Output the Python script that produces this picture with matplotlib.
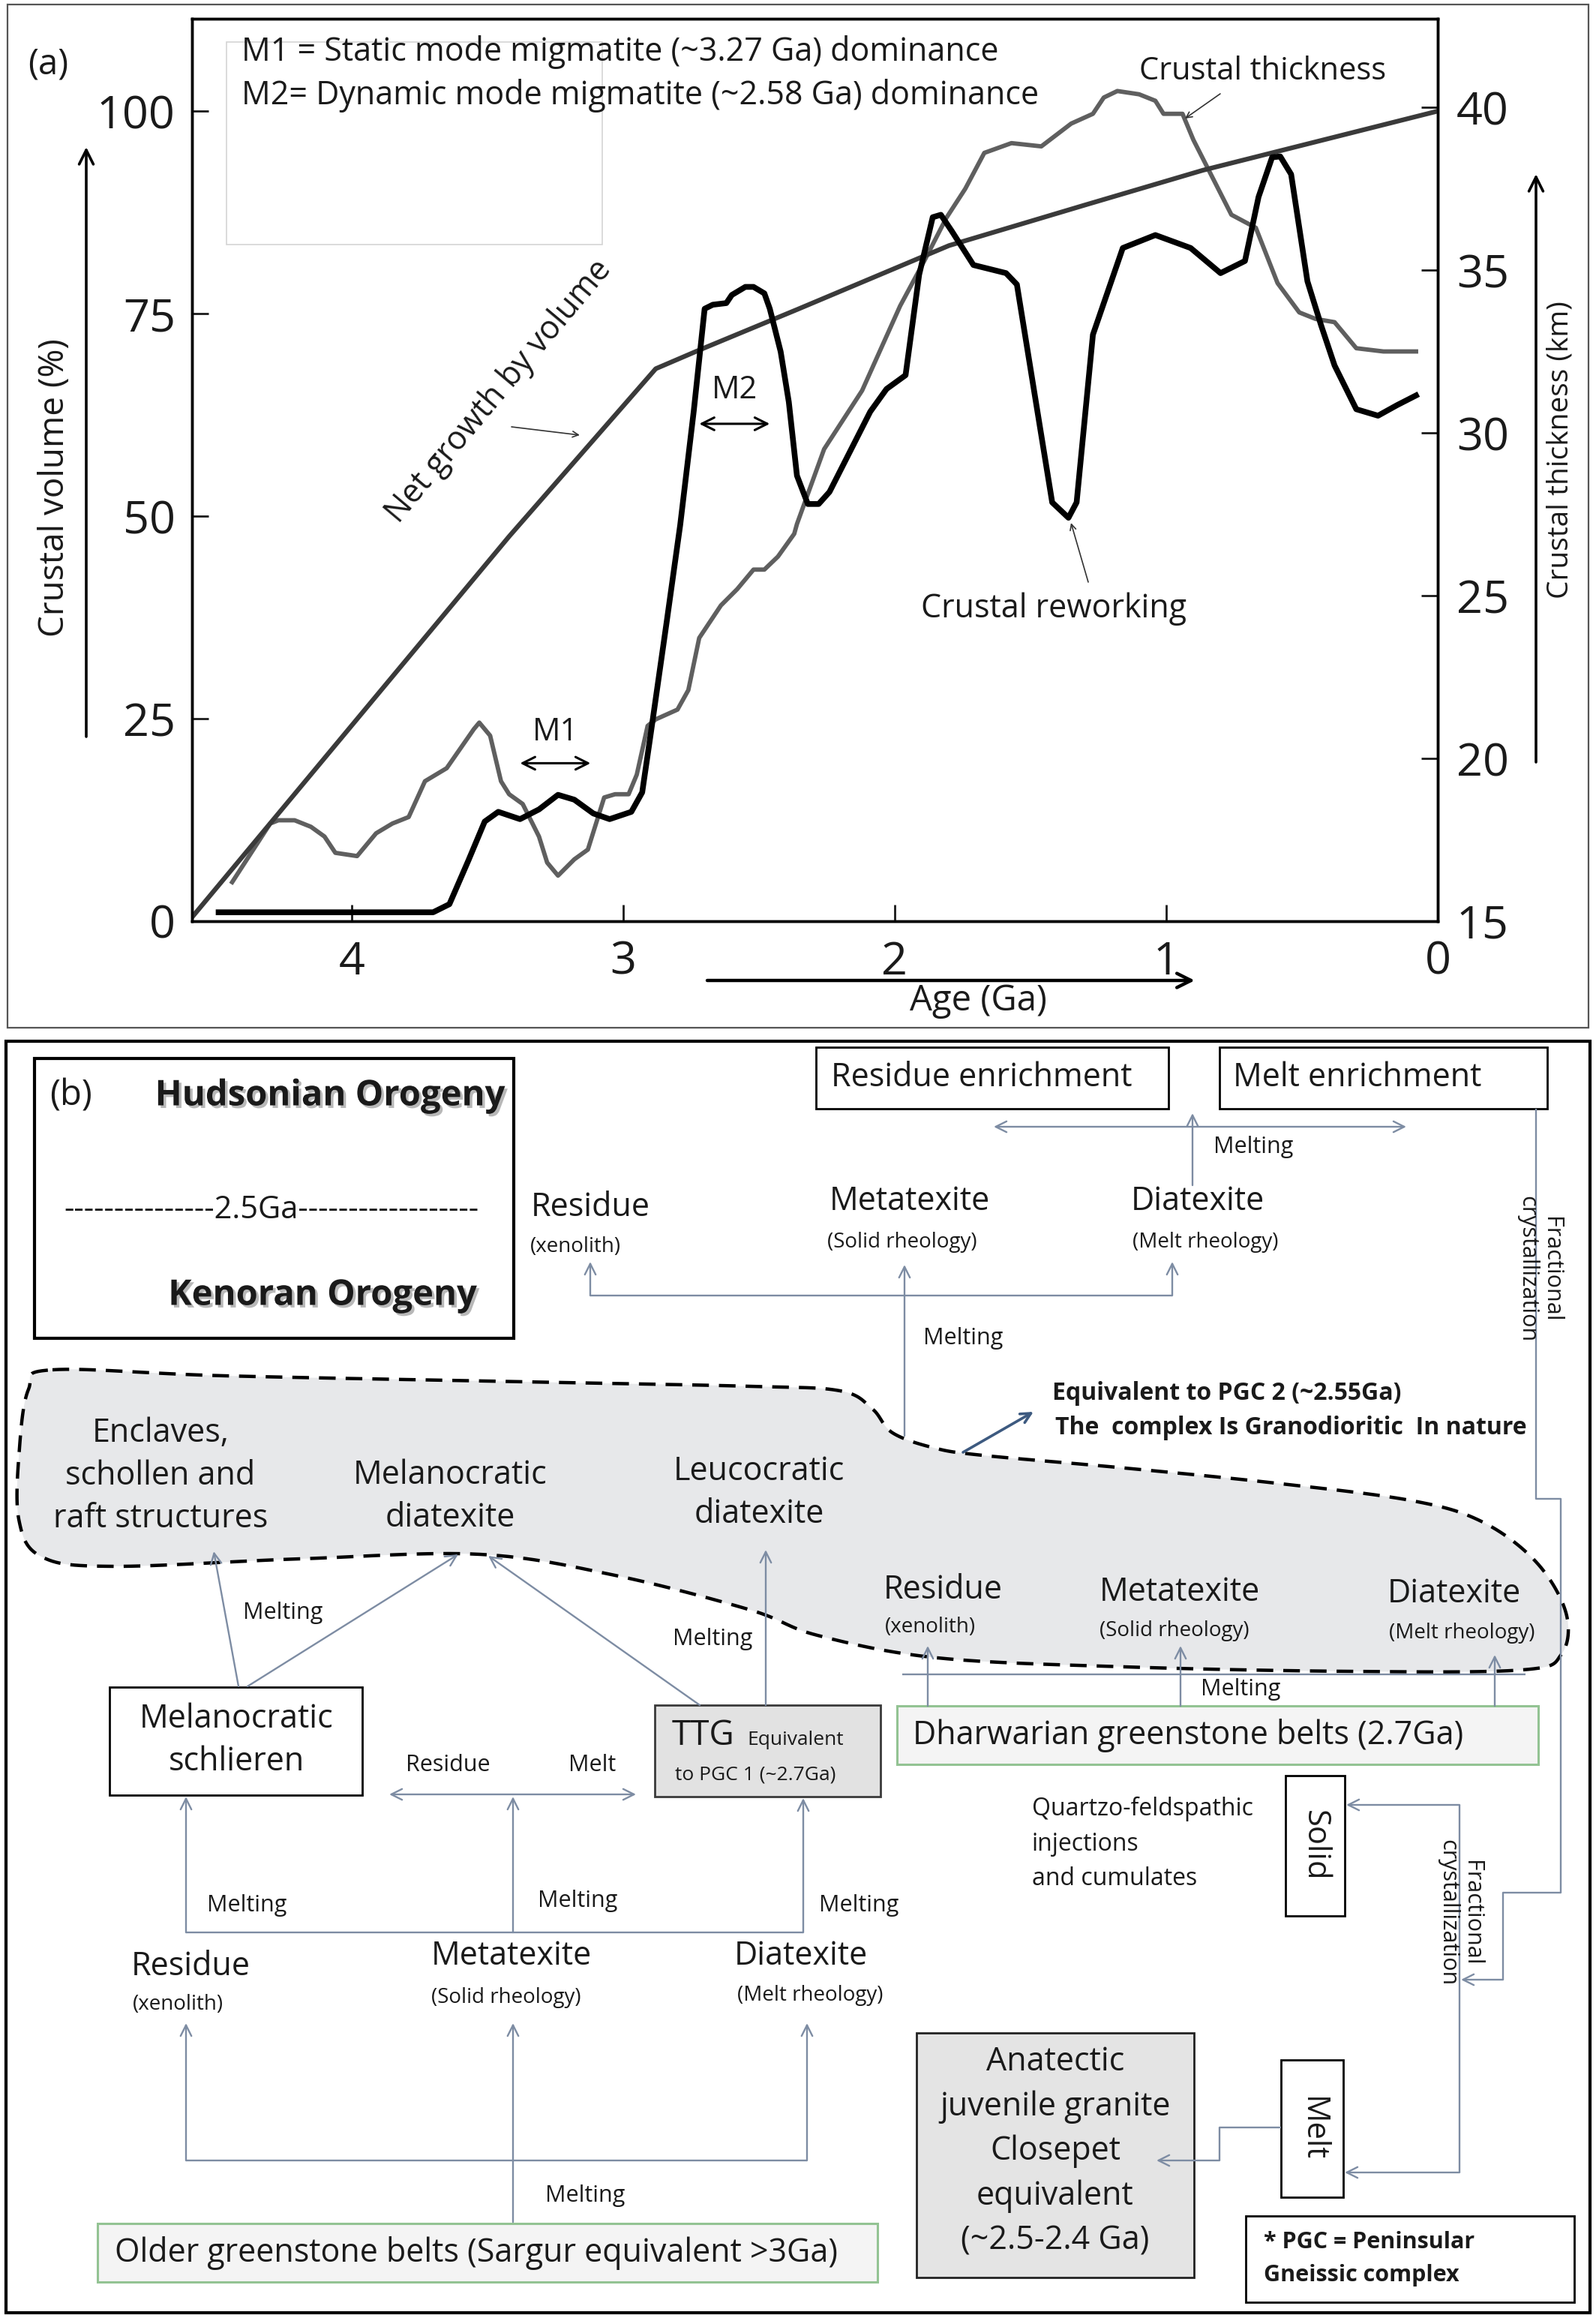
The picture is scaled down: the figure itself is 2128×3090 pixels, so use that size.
import numpy as np
import matplotlib
matplotlib.use('Agg')
import matplotlib.pyplot as plt
import matplotlib.patheffects as pe
from matplotlib.patches import Rectangle, Polygon

plt.rcParams['font.family'] = ['Open Sans', 'DejaVu Sans']

W, H = 2128, 3090

# ---- panel (a) data ----
growth_age = [4.60, 3.42, 2.88, 2.72, 2.36, 1.80, 1.30, 0.865, 0.00]
growth_vol = [0, 47.5, 68.2, 70.5, 75.5, 83.4, 88.4, 92.7, 100]

thick_age = [4.44, 4.30, 4.27, 4.21, 4.15, 4.10, 4.06, 3.98, 3.91, 3.85,
             3.79, 3.73, 3.69, 3.65, 3.60, 3.55, 3.53, 3.49, 3.45, 3.42,
             3.37, 3.31, 3.28, 3.24, 3.18, 3.13, 3.10, 3.07, 3.03, 2.98,
             2.95, 2.91, 2.88, 2.80, 2.76, 2.74, 2.72, 2.64, 2.58, 2.52,
             2.48, 2.43, 2.37, 2.36, 2.26, 2.12, 1.98, 1.89, 1.81, 1.74,
             1.67, 1.57, 1.46, 1.35, 1.27, 1.23, 1.18, 1.10, 1.04, 1.01,
             0.94, 0.90, 0.76, 0.67, 0.59, 0.51, 0.45, 0.38, 0.30, 0.20, 0.08]
thick_km = [16.2, 18.0, 18.1, 18.1, 17.9, 17.6, 17.1, 17.0, 17.7, 18.0,
            18.2, 19.3, 19.5, 19.7, 20.3, 20.9, 21.1, 20.7, 19.3, 18.9,
            18.6, 17.6, 16.8, 16.4, 16.9, 17.2, 18.0, 18.8, 18.9, 18.9,
            19.5, 21.0, 21.2, 21.5, 22.1, 22.9, 23.7, 24.7, 25.2, 25.8,
            25.8, 26.2, 26.9, 27.2, 29.5, 31.3, 33.9, 35.3, 36.6, 37.5,
            38.6, 38.9, 38.8, 39.5, 39.8, 40.3, 40.5, 40.4, 40.2, 39.8,
            39.8, 39.0, 36.7, 36.3, 34.6, 33.7, 33.5, 33.4, 32.6, 32.5, 32.5]

rework_age = [4.49, 3.70, 3.64, 3.57, 3.51, 3.46, 3.38, 3.31, 3.24, 3.18,
              3.11, 3.05, 2.97, 2.93, 2.90, 2.84, 2.79, 2.74, 2.70, 2.67,
              2.62, 2.60, 2.55, 2.52, 2.48, 2.46, 2.42, 2.39, 2.36, 2.32,
              2.28, 2.24, 2.09, 2.03, 1.96, 1.91, 1.86, 1.83, 1.79, 1.71,
              1.59, 1.55, 1.48, 1.42, 1.36, 1.33, 1.27, 1.16, 1.04, 0.91,
              0.80, 0.71, 0.66, 0.61, 0.58, 0.54, 0.48, 0.43, 0.38, 0.30,
              0.22, 0.15, 0.08]
rework_vol = [1.1, 1.1, 2.1, 7.5, 12.3, 13.5, 12.6, 13.8, 15.6, 15.0,
              13.3, 12.6, 13.5, 15.9, 22.8, 36.9, 48.9, 63.0, 75.6, 76.1,
              76.3, 77.3, 78.3, 78.3, 77.5, 75.6, 70.3, 64.1, 55.0, 51.5,
              51.5, 53.0, 62.9, 65.7, 67.4, 79.8, 86.9, 87.2, 85.2, 81.0,
              80.0, 78.6, 64.1, 51.7, 49.8, 51.7, 72.4, 83.1, 84.7, 83.1,
              80.0, 81.5, 89.4, 94.3, 94.4, 92.2, 79.0, 73.6, 68.6, 63.2,
              62.4, 63.7, 64.9]

vol_ticks = [0, 25, 50, 75, 100]
km_ticks = [15, 20, 25, 30, 35, 40]
age_ticks = [4, 3, 2, 1, 0]
m1_span = [3.38, 3.12]
m2_span = [2.72, 2.46]

inset_lines = ['M1 = Static mode migmatite (~3.27 Ga) dominance',
               'M2= Dynamic mode migmatite (~2.58 Ga) dominance']

TXT = '#1a1a1a'
CONN = '#7d8ca3'

fig = plt.figure(figsize=(W / 100, H / 100), dpi=100)

# axes box in pixels: x 256..1917, y 25..1228
ax = fig.add_axes([256 / W, 1 - 1228 / H, (1917 - 256) / W, (1228 - 25) / H])
ax2 = ax.twinx()

ax2.plot(thick_age, thick_km, color='#5f5f5f', lw=4.2, solid_joinstyle='round')
ax.plot(growth_age, growth_vol, color='#3a3a3a', lw=4.5)
ax.plot(rework_age, rework_vol, color='black', lw=5.5, solid_joinstyle='round')
ax.set_zorder(ax2.get_zorder() + 1)
ax.patch.set_visible(False)

ax.set_xlim(4.588, 0)
ax.set_ylim(0, 111.4)
ax2.set_ylim(15, 42.72)
ax.set_xticks(age_ticks)
ax.set_xticklabels([str(a) for a in age_ticks])
ax.set_yticks(vol_ticks)
ax2.set_yticks(km_ticks)
ax.tick_params(axis='x', direction='in', length=16, width=2, labelsize=44, pad=18, colors=TXT)
ax.tick_params(axis='y', direction='in', length=16, width=2, labelsize=44, pad=16, colors=TXT)
ax2.tick_params(axis='y', direction='in', length=16, width=2, labelsize=44, pad=18, colors=TXT)
for s in ax.spines.values():
    s.set_linewidth(2.5)
for s in ax2.spines.values():
    s.set_linewidth(2.5)

# M1 / M2 double arrows
ax.annotate('', xy=(m1_span[1], 19.5), xytext=(m1_span[0], 19.5),
            arrowprops=dict(arrowstyle='<->', color='black', lw=2.2, mutation_scale=30,
                            shrinkA=0, shrinkB=0))
ax.text(np.mean(m1_span), 23.3, 'M1', fontsize=30, ha='center', va='center', color=TXT)
ax.annotate('', xy=(m2_span[1], 61.4), xytext=(m2_span[0], 61.4),
            arrowprops=dict(arrowstyle='<->', color='black', lw=2.2, mutation_scale=30,
                            shrinkA=0, shrinkB=0))
ax.text(np.mean(m2_span), 65.6, 'M2', fontsize=30, ha='center', va='center', color=TXT)

# overlay in pixel coordinates (y downwards)
ov = fig.add_axes([0, 0, 1, 1])
ov.set_xlim(0, W)
ov.set_ylim(H, 0)
ov.axis('off')
ov.patch.set_alpha(0)


def box(x0, y0, x1, y1, fc='white', ec='black', lw=2.0, z=2):
    ov.add_patch(Rectangle((x0, y0), x1 - x0, y1 - y0, facecolor=fc, edgecolor=ec, lw=lw, zorder=z))


def txt(x, y, s, size, **kw):
    kw.setdefault('ha', 'center')
    kw.setdefault('va', 'center')
    kw.setdefault('color', TXT)
    ov.text(x, y, s, fontsize=size, zorder=6, **kw)


def arrow(p0, p1, color=CONN, lw=1.7, style='->', ms=26):
    ov.annotate('', xy=p1, xytext=p0, zorder=5,
                arrowprops=dict(arrowstyle=style, color=color, lw=lw, mutation_scale=ms,
                                shrinkA=0, shrinkB=0))


def line(pts, color=CONN, lw=1.7):
    pts = np.array(pts)
    ov.plot(pts[:, 0], pts[:, 1], color=color, lw=lw, zorder=5, solid_capstyle='butt')


# ---- panel (a) decorations ----
box(10, 6, 2118, 1370, fc='none', ec='#555555', lw=1.6, z=1)
txt(64, 86, '(a)', 34)
box(302, 56, 803, 326, fc='none', ec='#d4d4d4', lw=1.2, z=1)
txt(322, 69, inset_lines[0], 31, ha='left')
txt(322, 127, inset_lines[1], 31, ha='left')

txt(73, 650, 'Crustal volume (%)', 33, rotation=90)
arrow((115, 982), (115, 196), color='black', lw=2.6, ms=34)
txt(2080, 600, 'Crustal thickness (km)', 28, rotation=90)
arrow((2048, 1016), (2048, 232), color='black', lw=2.6, ms=34)
txt(1304, 1334, 'Age (Ga)', 34)
arrow((943, 1307), (1593, 1307), color='black', lw=3.2, ms=34)

txt(1684, 95, 'Crustal thickness', 30)
arrow((1627, 125), (1580, 158), color='#333333', lw=1.2, ms=14)
txt(1405, 812, 'Crustal reworking', 31)
arrow((1451, 776), (1428, 697), color='#333333', lw=1.2, ms=14)
txt(665, 522, 'Net growth by volume', 31, rotation=50)
arrow((682, 569), (773, 580), color='#333333', lw=1.2, ms=14)

# ---- panel (b) ----
box(8, 1388, 2120, 3083, fc='none', ec='black', lw=3.0, z=1)


def smooth_closed(pts, n=16):
    P = np.array(pts, dtype=float)
    N = len(P)
    t = np.linspace(0, 1, n, endpoint=False)[:, None]
    out = []
    for i in range(N):
        p0, p1, p2, p3 = P[i - 1], P[i], P[(i + 1) % N], P[(i + 2) % N]
        out.append(0.5 * (2 * p1 + (-p0 + p2) * t + (2 * p0 - 5 * p1 + 4 * p2 - p3) * t ** 2
                          + (-p0 + 3 * p1 - 3 * p2 + p3) * t ** 3))
    return np.vstack(out)


blob_pts = [(70, 1826), (300, 1834), (700, 1842), (1000, 1848), (1120, 1854), (1163, 1878),
            (1190, 1910), (1245, 1930), (1310, 1940), (1500, 1957), (1700, 1977), (1880, 2000),
            (1975, 2028), (2048, 2082), (2088, 2150), (2082, 2205), (2030, 2226), (1800, 2228),
            (1500, 2222), (1250, 2210), (1090, 2180), (1000, 2146), (820, 2100), (640, 2072),
            (400, 2078), (150, 2088), (55, 2075), (25, 2025), (26, 1930), (38, 1852)]
blob = smooth_closed(blob_pts)
ov.add_patch(Polygon(blob, closed=True, facecolor='#e7e8ea', edgecolor='black', lw=3.2,
                     linestyle=(0, (5, 3)), zorder=1))

# legend box
box(46, 1411, 685, 1784, lw=3.0)
shadow = [pe.SimplePatchShadow(offset=(2.5, -2.5), shadow_rgbFace='0.45', alpha=0.5), pe.Normal()]
txt(95, 1461, '(b)', 34)
txt(440, 1461, 'Hudsonian Orogeny', 34, weight='bold', path_effects=shadow)
txt(362, 1613, '---------------2.5Ga------------------', 30)
txt(430, 1727, 'Kenoran Orogeny', 34, weight='bold', path_effects=shadow)

# top boxes
box(1088, 1396, 1558, 1478)
box(1626, 1396, 2063, 1478)
txt(1108, 1437, 'Residue enrichment', 31, ha='left')
txt(1644, 1437, 'Melt enrichment', 31, ha='left')
arrow((1325, 1502), (1875, 1502), style='<->')
arrow((1590, 1580), (1590, 1484))
txt(1671, 1529, 'Melting', 22)

# upper migmatite row
txt(787, 1610, 'Residue', 31)
txt(767, 1662, '(xenolith)', 20)
txt(1213, 1602, 'Metatexite', 31)
txt(1203, 1656, '(Solid rheology)', 20)
txt(1597, 1602, 'Diatexite', 31)
txt(1607, 1656, '(Melt rheology)', 20)
line([(787, 1727), (1563, 1727)])
arrow((787, 1727), (787, 1682))
arrow((1563, 1727), (1563, 1682))
arrow((1206, 1914), (1206, 1686))
txt(1284, 1784, 'Melting', 22)

# fractional crystallization path (top)
line([(2048, 1478), (2048, 1998), (2081, 1998), (2081, 2523), (2004, 2523), (2004, 2639)])
arrow((2004, 2639), (1948, 2639))
txt(2052, 1692, 'Fractional\ncrystallization', 22, rotation=-90, linespacing=1.1)

# PGC2 note
txt(1403, 1857, 'Equivalent to PGC 2 (~2.55Ga)', 23, ha='left', weight='bold')
txt(1407, 1903, 'The  complex Is Granodioritic  In nature', 23, ha='left', weight='bold')
arrow((1284, 1936), (1378, 1882), color='#3d5a80', lw=2.6, ms=24)

# blob contents
txt(214, 1968, 'Enclaves,\nschollen and\nraft structures', 31, linespacing=1.38)
txt(600, 1995, 'Melanocratic\ndiatexite', 31, linespacing=1.38)
txt(1012, 1990, 'Leucocratic\ndiatexite', 31, linespacing=1.38)
txt(1257, 2120, 'Residue', 31)
txt(1240, 2169, '(xenolith)', 20)
txt(1573, 2123, 'Metatexite', 31)
txt(1566, 2174, '(Solid rheology)', 20)
txt(1939, 2125, 'Diatexite', 31)
txt(1949, 2177, '(Melt rheology)', 20)

# Dharwarian box
line([(1203, 2232), (2034, 2232)])
arrow((1237, 2274), (1237, 2194))
arrow((1574, 2274), (1574, 2194))
arrow((1993, 2274), (1993, 2206))
txt(1654, 2252, 'Melting', 22)
box(1196, 2274, 2051, 2352, fc='#f4f4f4', ec='#93c393', lw=2.2)
txt(1217, 2313, 'Dharwarian greenstone belts (2.7Ga)', 31, ha='left')

# left middle
arrow((318, 2248), (285, 2068))
arrow((330, 2248), (611, 2072))
arrow((933, 2273), (651, 2074))
arrow((1021, 2273), (1021, 2066))
txt(377, 2150, 'Melting', 22)
txt(950, 2185, 'Melting', 22)
box(146, 2249, 483, 2393)
txt(315, 2320, 'Melanocratic\nschlieren', 31, linespacing=1.38)
box(873, 2273, 1174, 2395, fc='#e2e2e2', ec='#3a3a3a')
txt(896, 2314, 'TTG', 33, ha='left')
txt(996, 2320, 'Equivalent', 19, ha='left')
txt(900, 2366, 'to PGC 1 (~2.7Ga)', 19, ha='left')
arrow((519, 2392), (848, 2392), style='<->')
txt(597, 2353, 'Residue', 22)
txt(790, 2353, 'Melt', 22)
arrow((684, 2576), (684, 2395))
line([(248, 2576), (1071, 2576)])
arrow((248, 2576), (248, 2395))
arrow((1071, 2576), (1071, 2397))
txt(329, 2540, 'Melting', 22)
txt(770, 2534, 'Melting', 22)
txt(1145, 2540, 'Melting', 22)

# lower row
txt(254, 2622, 'Residue', 31)
txt(237, 2672, '(xenolith)', 20)
txt(682, 2608, 'Metatexite', 31)
txt(675, 2663, '(Solid rheology)', 20)
txt(1068, 2608, 'Diatexite', 31)
txt(1080, 2660, '(Melt rheology)', 20)
line([(248, 2880), (1076, 2880)])
arrow((248, 2880), (248, 2697))
arrow((684, 2962), (684, 2697))
arrow((1076, 2880), (1076, 2697))
txt(780, 2927, 'Melting', 22)
box(130, 2964, 1170, 3042, fc='#f4f4f4', ec='#93c393', lw=2.2)
txt(153, 3003, 'Older greenstone belts (Sargur equivalent >3Ga)', 31, ha='left')

# right bottom
txt(1376, 2458, 'Quartzo-feldspathic\ninjections\nand cumulates', 23, ha='left', linespacing=1.55)
box(1714, 2367, 1793, 2554)
txt(1753, 2460, 'Solid', 30, rotation=-90)
box(1708, 2746, 1791, 2929)
txt(1750, 2838, 'Melt', 30, rotation=-90)
line([(1946, 2406), (1946, 2896)])
arrow((1946, 2406), (1795, 2406))
arrow((1946, 2896), (1793, 2896))
txt(1946, 2550, 'Fractional\ncrystallization', 22, rotation=-90, linespacing=1.1)
line([(1708, 2836), (1626, 2836), (1626, 2880)])
arrow((1626, 2880), (1542, 2880))
box(1222, 2710, 1592, 3036, fc='#e4e4e4', ec='#222222')
txt(1407, 2868, 'Anatectic\njuvenile granite\nClosepet\nequivalent\n(~2.5-2.4 Ga)', 31,
    linespacing=1.45)
box(1661, 2954, 2099, 3069)
txt(1685, 3011, '* PGC = Peninsular\nGneissic complex', 22, ha='left', weight='bold',
    linespacing=1.6)

fig.savefig('out.png', dpi=100)
